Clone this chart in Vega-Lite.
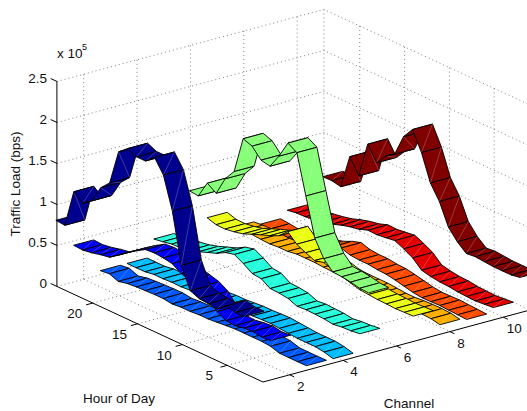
{"$schema":"https://vega.github.io/schema/vega-lite/v6.json","width":527,"height":411,"autosize":{"type":"none"},"padding":0,"background":"white","config":{"view":{"stroke":null},"text":{"font":"Liberation Sans"}},
"datasets":{
"load":[
{"channel":11,"hour":23,"load":54400},{"channel":11,"hour":22,"load":54600},{"channel":11,"hour":21,"load":52300},{"channel":11,"hour":20,"load":94000},{"channel":11,"hour":19,"load":75600},{"channel":11,"hour":18,"load":119400},{"channel":11,"hour":17,"load":101800},{"channel":11,"hour":16,"load":114900},{"channel":11,"hour":15,"load":122300},{"channel":11,"hour":14,"load":148800},{"channel":11,"hour":13,"load":162600},{"channel":11,"hour":12,"load":139600},{"channel":11,"hour":11,"load":107500},{"channel":11,"hour":10,"load":90000},{"channel":11,"hour":9,"load":64000},{"channel":11,"hour":8,"load":51000},{"channel":11,"hour":7,"load":41800},{"channel":11,"hour":6,"load":43000},{"channel":11,"hour":5,"load":42000},{"channel":11,"hour":4,"load":41000},{"channel":11,"hour":3,"load":41000},{"channel":11,"hour":2,"load":41000},{"channel":11,"hour":1,"load":43000},
{"channel":10,"hour":24,"load":17200},{"channel":10,"hour":23,"load":19000},{"channel":10,"hour":22,"load":19400},{"channel":10,"hour":21,"load":21000},{"channel":10,"hour":20,"load":23000},{"channel":10,"hour":19,"load":25500},{"channel":10,"hour":18,"load":29400},{"channel":10,"hour":17,"load":32500},{"channel":10,"hour":16,"load":34600},{"channel":10,"hour":15,"load":38400},{"channel":10,"hour":14,"load":38000},{"channel":10,"hour":13,"load":39400},{"channel":10,"hour":12,"load":41000},{"channel":10,"hour":11,"load":36000},{"channel":10,"hour":10,"load":30000},{"channel":10,"hour":9,"load":20000},{"channel":10,"hour":8,"load":17500},{"channel":10,"hour":7,"load":16000},{"channel":10,"hour":6,"load":15500},{"channel":10,"hour":5,"load":14000},{"channel":10,"hour":4,"load":13400},{"channel":10,"hour":3,"load":13000},{"channel":10,"hour":2,"load":14000},{"channel":10,"hour":1,"load":15000},
{"channel":9,"hour":24,"load":9000},{"channel":9,"hour":23,"load":8000},{"channel":9,"hour":22,"load":6500},{"channel":9,"hour":21,"load":8000},{"channel":9,"hour":20,"load":10000},{"channel":9,"hour":19,"load":12000},{"channel":9,"hour":18,"load":14000},{"channel":9,"hour":17,"load":17000},{"channel":9,"hour":16,"load":22000},{"channel":9,"hour":15,"load":25500},{"channel":9,"hour":14,"load":22000},{"channel":9,"hour":13,"load":21000},{"channel":9,"hour":12,"load":21000},{"channel":9,"hour":11,"load":19500},{"channel":9,"hour":10,"load":19000},{"channel":9,"hour":9,"load":17000},{"channel":9,"hour":8,"load":14500},{"channel":9,"hour":7,"load":12000},{"channel":9,"hour":6,"load":10600},{"channel":9,"hour":5,"load":10800},{"channel":9,"hour":4,"load":11200},{"channel":9,"hour":3,"load":10500},{"channel":9,"hour":2,"load":10000},{"channel":9,"hour":1,"load":9300},
{"channel":8,"hour":24,"load":14000},{"channel":8,"hour":23,"load":15000},{"channel":8,"hour":22,"load":15500},{"channel":8,"hour":21,"load":14500},{"channel":8,"hour":20,"load":14000},{"channel":8,"hour":19,"load":15000},{"channel":8,"hour":18,"load":15000},{"channel":8,"hour":17,"load":16800},{"channel":8,"hour":16,"load":16800},{"channel":8,"hour":15,"load":16800},{"channel":8,"hour":14,"load":16000},{"channel":8,"hour":13,"load":15700},{"channel":8,"hour":12,"load":15500},{"channel":8,"hour":11,"load":15000},{"channel":8,"hour":10,"load":15000},{"channel":8,"hour":9,"load":15000},{"channel":8,"hour":8,"load":14000},{"channel":8,"hour":7,"load":13000},{"channel":8,"hour":6,"load":13000},{"channel":8,"hour":5,"load":14000},{"channel":8,"hour":4,"load":14500},{"channel":8,"hour":3,"load":14600},{"channel":8,"hour":2,"load":14000},{"channel":8,"hour":1,"load":11700},
{"channel":7,"hour":24,"load":34400},{"channel":7,"hour":23,"load":31000},{"channel":7,"hour":22,"load":30700},{"channel":7,"hour":21,"load":32500},{"channel":7,"hour":20,"load":35000},{"channel":7,"hour":19,"load":39600},{"channel":7,"hour":18,"load":44000},{"channel":7,"hour":17,"load":48000},{"channel":7,"hour":16,"load":53000},{"channel":7,"hour":15,"load":63000},{"channel":7,"hour":14,"load":52800},{"channel":7,"hour":13,"load":47500},{"channel":7,"hour":12,"load":43000},{"channel":7,"hour":11,"load":45700},{"channel":7,"hour":10,"load":42000},{"channel":7,"hour":9,"load":39000},{"channel":7,"hour":8,"load":36000},{"channel":7,"hour":7,"load":33000},{"channel":7,"hour":6,"load":32000},{"channel":7,"hour":5,"load":31000},{"channel":7,"hour":4,"load":30700},{"channel":7,"hour":3,"load":30000},{"channel":7,"hour":2,"load":30500},{"channel":7,"hour":1,"load":31000},
{"channel":6,"hour":23,"load":81000},{"channel":6,"hour":22,"load":80000},{"channel":6,"hour":21,"load":100500},{"channel":6,"hour":20,"load":93300},{"channel":6,"hour":19,"load":116000},{"channel":6,"hour":18,"load":130000},{"channel":6,"hour":17,"load":175000},{"channel":6,"hour":16,"load":171000},{"channel":6,"hour":15,"load":159000},{"channel":6,"hour":14,"load":156700},{"channel":6,"hour":13,"load":174000},{"channel":6,"hour":12,"load":195000},{"channel":6,"hour":11,"load":188400},{"channel":6,"hour":10,"load":140600},{"channel":6,"hour":9,"load":94300},{"channel":6,"hour":8,"load":74300},{"channel":6,"hour":7,"load":63200},{"channel":6,"hour":6,"load":62400},{"channel":6,"hour":5,"load":61000},{"channel":6,"hour":4,"load":58500},{"channel":6,"hour":3,"load":58000},
{"channel":5,"hour":24,"load":26000},{"channel":5,"hour":23,"load":27800},{"channel":5,"hour":22,"load":30000},{"channel":5,"hour":21,"load":30500},{"channel":5,"hour":20,"load":32500},{"channel":5,"hour":19,"load":35800},{"channel":5,"hour":18,"load":40000},{"channel":5,"hour":17,"load":44000},{"channel":5,"hour":16,"load":50000},{"channel":5,"hour":15,"load":52800},{"channel":5,"hour":14,"load":46800},{"channel":5,"hour":13,"load":39600},{"channel":5,"hour":12,"load":38400},{"channel":5,"hour":11,"load":31500},{"channel":5,"hour":10,"load":31000},{"channel":5,"hour":9,"load":29500},{"channel":5,"hour":8,"load":25000},{"channel":5,"hour":7,"load":26000},{"channel":5,"hour":6,"load":25500},{"channel":5,"hour":5,"load":25000},{"channel":5,"hour":4,"load":23400},{"channel":5,"hour":3,"load":25000},{"channel":5,"hour":2,"load":25600},{"channel":5,"hour":1,"load":27000},
{"channel":4,"hour":24,"load":5000},{"channel":4,"hour":23,"load":4900},{"channel":4,"hour":22,"load":5000},{"channel":4,"hour":21,"load":6800},{"channel":4,"hour":20,"load":6600},{"channel":4,"hour":19,"load":7400},{"channel":4,"hour":18,"load":7000},{"channel":4,"hour":17,"load":8000},{"channel":4,"hour":16,"load":9000},{"channel":4,"hour":15,"load":9000},{"channel":4,"hour":14,"load":10000},{"channel":4,"hour":13,"load":10000},{"channel":4,"hour":12,"load":11000},{"channel":4,"hour":11,"load":12000},{"channel":4,"hour":10,"load":12000},{"channel":4,"hour":9,"load":12600},{"channel":4,"hour":8,"load":13000},{"channel":4,"hour":7,"load":12000},{"channel":4,"hour":6,"load":11000},{"channel":4,"hour":5,"load":10000},{"channel":4,"hour":4,"load":10000},{"channel":4,"hour":3,"load":10000},{"channel":4,"hour":2,"load":8400},{"channel":4,"hour":1,"load":5400},
{"channel":3,"hour":24,"load":5000},{"channel":3,"hour":23,"load":6300},{"channel":3,"hour":22,"load":2000},{"channel":3,"hour":21,"load":4500},{"channel":3,"hour":20,"load":5500},{"channel":3,"hour":19,"load":6000},{"channel":3,"hour":18,"load":6500},{"channel":3,"hour":17,"load":6500},{"channel":3,"hour":16,"load":5000},{"channel":3,"hour":15,"load":6000},{"channel":3,"hour":14,"load":6000},{"channel":3,"hour":13,"load":7000},{"channel":3,"hour":12,"load":7000},{"channel":3,"hour":11,"load":8000},{"channel":3,"hour":10,"load":9000},{"channel":3,"hour":9,"load":10000},{"channel":3,"hour":8,"load":10000},{"channel":3,"hour":7,"load":10000},{"channel":3,"hour":6,"load":10000},{"channel":3,"hour":5,"load":9000},{"channel":3,"hour":4,"load":5600},{"channel":3,"hour":3,"load":5500},{"channel":3,"hour":2,"load":5500},{"channel":3,"hour":1,"load":5600},
{"channel":2,"hour":24,"load":44700},{"channel":2,"hour":23,"load":44000},{"channel":2,"hour":22,"load":45700},{"channel":2,"hour":21,"load":48400},{"channel":2,"hour":20,"load":50400},{"channel":2,"hour":19,"load":58000},{"channel":2,"hour":18,"load":66000},{"channel":2,"hour":17,"load":73500},{"channel":2,"hour":16,"load":80000},{"channel":2,"hour":15,"load":81000},{"channel":2,"hour":14,"load":80000},{"channel":2,"hour":13,"load":78000},{"channel":2,"hour":12,"load":71000},{"channel":2,"hour":11,"load":67700},{"channel":2,"hour":10,"load":64600},{"channel":2,"hour":9,"load":58000},{"channel":2,"hour":8,"load":45000},{"channel":2,"hour":7,"load":39000},{"channel":2,"hour":6,"load":38000},{"channel":2,"hour":5,"load":40000},{"channel":2,"hour":4,"load":41000},{"channel":2,"hour":3,"load":39000},{"channel":2,"hour":2,"load":40000},
{"channel":1,"hour":23,"load":89000},{"channel":1,"hour":22,"load":88000},{"channel":1,"hour":21,"load":134000},{"channel":1,"hour":20,"load":125000},{"channel":1,"hour":19,"load":133000},{"channel":1,"hour":18,"load":154000},{"channel":1,"hour":17,"load":165000},{"channel":1,"hour":16,"load":208000},{"channel":1,"hour":15,"load":217000},{"channel":1,"hour":14,"load":212000},{"channel":1,"hour":13,"load":212000},{"channel":1,"hour":12,"load":221500},{"channel":1,"hour":11,"load":205000},{"channel":1,"hour":10,"load":166000},{"channel":1,"hour":9,"load":105000},{"channel":1,"hour":8,"load":79000},{"channel":1,"hour":7,"load":74500},{"channel":1,"hour":6,"load":73400},{"channel":1,"hour":5,"load":72000},{"channel":1,"hour":4,"load":81000},{"channel":1,"hour":3,"load":78000},{"channel":1,"hour":2,"load":78000}
],
"grid":[
{"id":"f2","channel":2,"hour":1,"load":0},{"id":"f2","channel":2,"hour":24,"load":0},{"id":"f4","channel":4,"hour":1,"load":0},{"id":"f4","channel":4,"hour":24,"load":0},{"id":"f6","channel":6,"hour":1,"load":0},{"id":"f6","channel":6,"hour":24,"load":0},{"id":"f8","channel":8,"hour":1,"load":0},{"id":"f8","channel":8,"hour":24,"load":0},{"id":"f10","channel":10,"hour":1,"load":0},{"id":"f10","channel":10,"hour":24,"load":0},{"id":"f11","channel":11,"hour":1,"load":0},{"id":"f11","channel":11,"hour":24,"load":0},
{"id":"g5","channel":1,"hour":5,"load":0},{"id":"g5","channel":11,"hour":5,"load":0},{"id":"g10","channel":1,"hour":10,"load":0},{"id":"g10","channel":11,"hour":10,"load":0},{"id":"g15","channel":1,"hour":15,"load":0},{"id":"g15","channel":11,"hour":15,"load":0},{"id":"g20","channel":1,"hour":20,"load":0},{"id":"g20","channel":11,"hour":20,"load":0},{"id":"g24","channel":1,"hour":24,"load":0},{"id":"g24","channel":11,"hour":24,"load":0},
{"id":"b2","channel":2,"hour":24,"load":0},{"id":"b2","channel":2,"hour":24,"load":250000},{"id":"b4","channel":4,"hour":24,"load":0},{"id":"b4","channel":4,"hour":24,"load":250000},{"id":"b6","channel":6,"hour":24,"load":0},{"id":"b6","channel":6,"hour":24,"load":250000},{"id":"b8","channel":8,"hour":24,"load":0},{"id":"b8","channel":8,"hour":24,"load":250000},{"id":"b10","channel":10,"hour":24,"load":0},{"id":"b10","channel":10,"hour":24,"load":250000},
{"id":"r5","channel":11,"hour":5,"load":0},{"id":"r5","channel":11,"hour":5,"load":250000},{"id":"r10","channel":11,"hour":10,"load":0},{"id":"r10","channel":11,"hour":10,"load":250000},{"id":"r15","channel":11,"hour":15,"load":0},{"id":"r15","channel":11,"hour":15,"load":250000},{"id":"r20","channel":11,"hour":20,"load":0},{"id":"r20","channel":11,"hour":20,"load":250000},{"id":"r24","channel":11,"hour":24,"load":0},{"id":"r24","channel":11,"hour":24,"load":250000},
{"id":"z05","channel":1,"hour":24,"load":50000},{"id":"z05","channel":11,"hour":24,"load":50000},{"id":"z05","channel":11,"hour":1,"load":50000},
{"id":"z10","channel":1,"hour":24,"load":100000},{"id":"z10","channel":11,"hour":24,"load":100000},{"id":"z10","channel":11,"hour":1,"load":100000},
{"id":"z15","channel":1,"hour":24,"load":150000},{"id":"z15","channel":11,"hour":24,"load":150000},{"id":"z15","channel":11,"hour":1,"load":150000},
{"id":"z20","channel":1,"hour":24,"load":200000},{"id":"z20","channel":11,"hour":24,"load":200000},{"id":"z20","channel":11,"hour":1,"load":200000},
{"id":"z25","channel":1,"hour":24,"load":250000},{"id":"z25","channel":11,"hour":24,"load":250000},{"id":"z25","channel":11,"hour":1,"load":250000}
],
"axes":[
{"id":"zaxis","channel":1,"hour":24,"load":0},{"id":"zaxis","channel":1,"hour":24,"load":250000},
{"id":"haxis","channel":1,"hour":24,"load":0},{"id":"haxis","channel":1,"hour":1,"load":0},
{"id":"caxis","channel":1,"hour":1,"load":0},{"id":"caxis","channel":11,"hour":1,"load":0},
{"id":"zt0","channel":1,"hour":24,"load":0},{"id":"zt0","channel":1,"hour":24.7,"load":0},
{"id":"zt1","channel":1,"hour":24,"load":50000},{"id":"zt1","channel":1,"hour":24.7,"load":50000},
{"id":"zt2","channel":1,"hour":24,"load":100000},{"id":"zt2","channel":1,"hour":24.7,"load":100000},
{"id":"zt3","channel":1,"hour":24,"load":150000},{"id":"zt3","channel":1,"hour":24.7,"load":150000},
{"id":"zt4","channel":1,"hour":24,"load":200000},{"id":"zt4","channel":1,"hour":24.7,"load":200000},
{"id":"zt5","channel":1,"hour":24,"load":250000},{"id":"zt5","channel":1,"hour":24.7,"load":250000},
{"id":"ht5","channel":1,"hour":5,"load":0},{"id":"ht5","channel":0.75,"hour":5,"load":0},
{"id":"ht10","channel":1,"hour":10,"load":0},{"id":"ht10","channel":0.75,"hour":10,"load":0},
{"id":"ht15","channel":1,"hour":15,"load":0},{"id":"ht15","channel":0.75,"hour":15,"load":0},
{"id":"ht20","channel":1,"hour":20,"load":0},{"id":"ht20","channel":0.75,"hour":20,"load":0},
{"id":"ct2","channel":2,"hour":1,"load":0},{"id":"ct2","channel":2,"hour":0.5,"load":0},
{"id":"ct4","channel":4,"hour":1,"load":0},{"id":"ct4","channel":4,"hour":0.5,"load":0},
{"id":"ct6","channel":6,"hour":1,"load":0},{"id":"ct6","channel":6,"hour":0.5,"load":0},
{"id":"ct8","channel":8,"hour":1,"load":0},{"id":"ct8","channel":8,"hour":0.5,"load":0},
{"id":"ct10","channel":10,"hour":1,"load":0},{"id":"ct10","channel":10,"hour":0.5,"load":0}
]
},
"encoding":{
"x":{"field":"px","type":"quantitative","scale":{"domain":[0,527],"nice":false,"zero":false},"axis":null},
"y":{"field":"py","type":"quantitative","scale":{"domain":[411,0],"nice":false,"zero":false},"axis":null}
},
"layer":[
{"data":{"name":"grid"},
"transform":[{"calculate":"263+26.7*(datum.channel-1)-8.96*(datum.hour-1)","as":"px"},{"calculate":"382-7.2*(datum.channel-1)-4.155*(datum.hour-1)-82*datum.load/100000","as":"py"}],
"mark":{"type":"line","stroke":"#808080","strokeWidth":1,"strokeDash":[1,3]},
"encoding":{"detail":{"field":"id"}}},
{"data":{"name":"axes"},
"transform":[{"calculate":"263+26.7*(datum.channel-1)-8.96*(datum.hour-1)","as":"px"},{"calculate":"382-7.2*(datum.channel-1)-4.155*(datum.hour-1)-82*datum.load/100000","as":"py"}],
"mark":{"type":"line","stroke":"#000000","strokeWidth":1},
"encoding":{"detail":{"field":"id"}}},
{"data":{"name":"load"},
"transform":[
{"window":[{"op":"lead","field":"load","as":"load2"},{"op":"lead","field":"hour","as":"hour2"}],"groupby":["channel"],"sort":[{"field":"hour","order":"descending"}]},
{"filter":"isValid(datum.hour2)"},
{"calculate":"[0,1,2,3,0,3,1]","as":"vertex"},
{"calculate":"[0,1,2,3,4,0,1]","as":"step"},
{"calculate":"['face','face','face','face','face','seam','seam']","as":"part"},
{"flatten":["vertex","step","part"]},
{"calculate":"datum.channel+'-'+datum.hour+'-'+datum.part","as":"key"},
{"calculate":"datum.part==='seam'?'seam':'c'+datum.channel","as":"paint"},
{"calculate":"datum.channel+((datum.vertex===1||datum.vertex===2)?0.375:-0.375)","as":"vc"},
{"calculate":"datum.vertex<2?datum.hour:datum.hour2","as":"vh"},
{"calculate":"datum.vertex<2?datum.load:datum.load2","as":"vl"},
{"calculate":"263+26.7*(datum.vc-1)-8.96*(datum.vh-1)","as":"px"},
{"calculate":"382-7.2*(datum.vc-1)-4.155*(datum.vh-1)-82*datum.vl/100000","as":"py"}
],
"mark":{"type":"line","strokeJoin":"round","clip":false},
"encoding":{
"detail":{"field":"key"},
"order":{"field":"step","type":"quantitative"},
"fill":{"field":"paint","type":"nominal","legend":null,"scale":{"domain":["c1","c2","c3","c4","c5","c6","c7","c8","c9","c10","c11","seam"],"range":["#00008f","#0000f4","#0059ff","#00bdff","#24ffdc","#87ff78","#ecff13","#ffae00","#ff4a00","#e30000","#800000","transparent"]}},
"stroke":{"field":"part","type":"nominal","legend":null,"scale":{"domain":["face","seam"],"range":["#000000","#ffffff"]}},
"strokeWidth":{"field":"part","type":"nominal","legend":null,"scale":{"domain":["face","seam"],"range":[0.9,0.5]}},
"strokeOpacity":{"field":"part","type":"nominal","legend":null,"scale":{"domain":["face","seam"],"range":[1,0.45]}}
}},
{"data":{"values":[{"label":"0","channel":1,"hour":24,"load":0},{"label":"0.5","channel":1,"hour":24,"load":50000},{"label":"1","channel":1,"hour":24,"load":100000},{"label":"1.5","channel":1,"hour":24,"load":150000},{"label":"2","channel":1,"hour":24,"load":200000},{"label":"2.5","channel":1,"hour":24,"load":250000}]},
"transform":[{"calculate":"263+26.7*(datum.channel-1)-8.96*(datum.hour-1)","as":"px"},{"calculate":"382-7.2*(datum.channel-1)-4.155*(datum.hour-1)-82*datum.load/100000","as":"py"}],
"mark":{"type":"text","fontSize":13.5,"align":"right","baseline":"middle","dx":-10,"dy":-2,"color":"#111"},"encoding":{"text":{"field":"label"}}},
{"data":{"values":[{"label":"5","channel":1,"hour":5,"load":0},{"label":"10","channel":1,"hour":10,"load":0},{"label":"15","channel":1,"hour":15,"load":0},{"label":"20","channel":1,"hour":20,"load":0}]},
"transform":[{"calculate":"263+26.7*(datum.channel-1)-8.96*(datum.hour-1)","as":"px"},{"calculate":"382-7.2*(datum.channel-1)-4.155*(datum.hour-1)-82*datum.load/100000","as":"py"}],
"mark":{"type":"text","fontSize":13.5,"align":"center","baseline":"middle","dx":-18,"dy":11,"color":"#111"},"encoding":{"text":{"field":"label"}}},
{"data":{"values":[{"label":"2","channel":2,"hour":1,"load":0},{"label":"4","channel":4,"hour":1,"load":0},{"label":"6","channel":6,"hour":1,"load":0},{"label":"8","channel":8,"hour":1,"load":0},{"label":"10","channel":10,"hour":1,"load":0}]},
"transform":[{"calculate":"263+26.7*(datum.channel-1)-8.96*(datum.hour-1)","as":"px"},{"calculate":"382-7.2*(datum.channel-1)-4.155*(datum.hour-1)-82*datum.load/100000","as":"py"}],
"mark":{"type":"text","fontSize":13.5,"align":"center","baseline":"middle","dx":11,"dy":12,"color":"#111"},"encoding":{"text":{"field":"label"}}},
{"data":{"values":[{"label":"Hour of Day","channel":1,"hour":14,"load":0}]},
"transform":[{"calculate":"263+26.7*(datum.channel-1)-8.96*(datum.hour-1)","as":"px"},{"calculate":"382-7.2*(datum.channel-1)-4.155*(datum.hour-1)-82*datum.load/100000","as":"py"}],
"mark":{"type":"text","fontSize":13.5,"align":"center","baseline":"middle","dx":-27.5,"dy":71,"color":"#111"},"encoding":{"text":{"field":"label"}}},
{"data":{"values":[{"label":"Channel","channel":6,"hour":1,"load":0}]},
"transform":[{"calculate":"263+26.7*(datum.channel-1)-8.96*(datum.hour-1)","as":"px"},{"calculate":"382-7.2*(datum.channel-1)-4.155*(datum.hour-1)-82*datum.load/100000","as":"py"}],
"mark":{"type":"text","fontSize":13.5,"align":"center","baseline":"middle","dx":12.5,"dy":58,"color":"#111"},"encoding":{"text":{"field":"label"}}},
{"data":{"values":[{"label":"Traffic Load (bps)","channel":1,"hour":24,"load":125000}]},
"transform":[{"calculate":"263+26.7*(datum.channel-1)-8.96*(datum.hour-1)","as":"px"},{"calculate":"382-7.2*(datum.channel-1)-4.155*(datum.hour-1)-82*datum.load/100000","as":"py"}],
"mark":{"type":"text","fontSize":13.5,"angle":270,"align":"center","baseline":"middle","dy":-41,"color":"#111"},"encoding":{"text":{"field":"label"}}},
{"data":{"values":[{"label":"x 10","channel":1,"hour":24,"load":290000}]},
"transform":[{"calculate":"263+26.7*(datum.channel-1)-8.96*(datum.hour-1)","as":"px"},{"calculate":"382-7.2*(datum.channel-1)-4.155*(datum.hour-1)-82*datum.load/100000","as":"py"}],
"mark":{"type":"text","fontSize":13.5,"align":"left","baseline":"middle","dy":5,"color":"#111"},"encoding":{"text":{"field":"label"}}},
{"data":{"values":[{"label":"5","channel":1,"hour":24,"load":290000}]},
"transform":[{"calculate":"263+26.7*(datum.channel-1)-8.96*(datum.hour-1)","as":"px"},{"calculate":"382-7.2*(datum.channel-1)-4.155*(datum.hour-1)-82*datum.load/100000","as":"py"}],
"mark":{"type":"text","fontSize":9,"align":"left","baseline":"middle","dx":25,"dy":-2,"color":"#111"},"encoding":{"text":{"field":"label"}}}
]
}
